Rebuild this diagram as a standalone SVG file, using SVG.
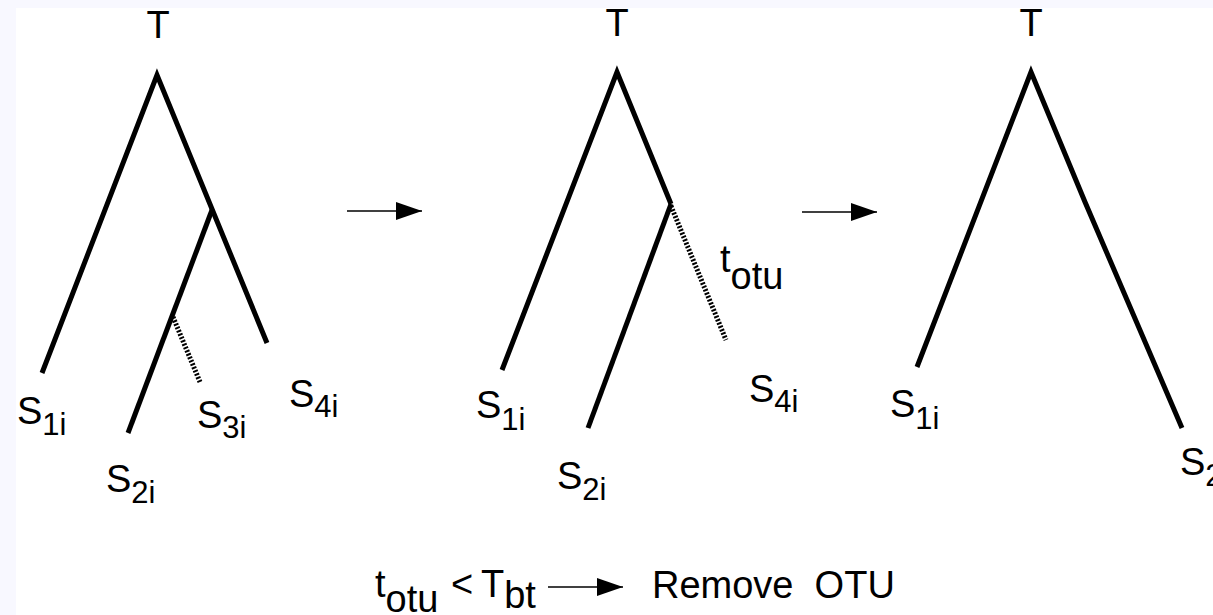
<svg xmlns="http://www.w3.org/2000/svg" width="1213" height="615" viewBox="0 0 1213 615">
<defs>
<style>
.br{fill:none;stroke:#000;stroke-width:5;stroke-linecap:butt;stroke-linejoin:miter}
.ds{fill:none;stroke:#000;stroke-width:5;stroke-dasharray:2 1.6}
.ar{stroke:#000;stroke-width:1.6}
.lb{font-family:"Liberation Sans",Arial,sans-serif;font-size:38px;fill:#000}
.sb{font-size:31px}
</style>
<marker id="ah" markerWidth="26" markerHeight="18" refX="26" refY="9" markerUnits="userSpaceOnUse" orient="auto">
<polygon points="0,0 26,9 0,18" fill="#000"/>
</marker>
</defs>
<rect x="0" y="0" width="1213" height="615" fill="#f8f8ff"/>
<rect x="16" y="8" width="1197" height="607" fill="#fff"/>

<g id="tree1">
<polyline class="br" points="42,373 157,75 267,343"/>
<polyline class="br" points="212,210 128,433"/>
<line class="ds" x1="173" y1="317" x2="200" y2="382"/>
<text class="lb" x="158" y="38" text-anchor="middle">T</text>
<text class="lb" x="17" y="424">S<tspan class="sb" dy="11">1i</tspan></text>
<text class="lb" x="106" y="492">S<tspan class="sb" dy="11">2i</tspan></text>
<text class="lb" x="197" y="428">S<tspan class="sb" dy="10">3i</tspan></text>
<text class="lb" x="289" y="407">S<tspan class="sb" dy="10">4i</tspan></text>
</g>

<g id="tree2">
<polyline class="br" points="502,370 617,72 671,204"/>
<polyline class="br" points="671,204 588,428"/>
<line class="ds" x1="671" y1="206" x2="726" y2="340"/>
<text class="lb" x="617" y="36" text-anchor="middle">T</text>
<text class="lb" x="720" y="272">t<tspan dy="17">otu</tspan></text>
<text class="lb" x="476" y="418">S<tspan class="sb" dy="12">1i</tspan></text>
<text class="lb" x="557" y="489">S<tspan class="sb" dy="11">2i</tspan></text>
<text class="lb" x="749" y="402">S<tspan class="sb" dy="10">4i</tspan></text>
</g>

<g id="tree3">
<polyline class="br" points="917,367 1031,72 1085,202 1182,428"/>
<text class="lb" x="1031" y="36" text-anchor="middle">T</text>
<text class="lb" x="890" y="417">S<tspan class="sb" dy="12">1i</tspan></text>
<text class="lb" x="1180" y="475">S<tspan class="sb" dy="11">2i</tspan></text>
</g>

<g id="rule">
<text class="lb" x="375" y="597">t<tspan dy="15">otu</tspan></text>
<text class="lb" x="451" y="597">&lt;</text>
<text class="lb" x="481" y="597">T<tspan dy="11">bt</tspan></text>
<text class="lb" x="652" y="598" xml:space="preserve">Remove  OTU</text>
</g>

<g id="connectors">
<line class="ar" x1="347" y1="211" x2="422" y2="211" marker-end="url(#ah)"/>
<line class="ar" x1="802" y1="212" x2="877" y2="212" marker-end="url(#ah)"/>
<line class="ar" x1="548" y1="587" x2="623" y2="587" marker-end="url(#ah)"/>
</g>
</svg>
